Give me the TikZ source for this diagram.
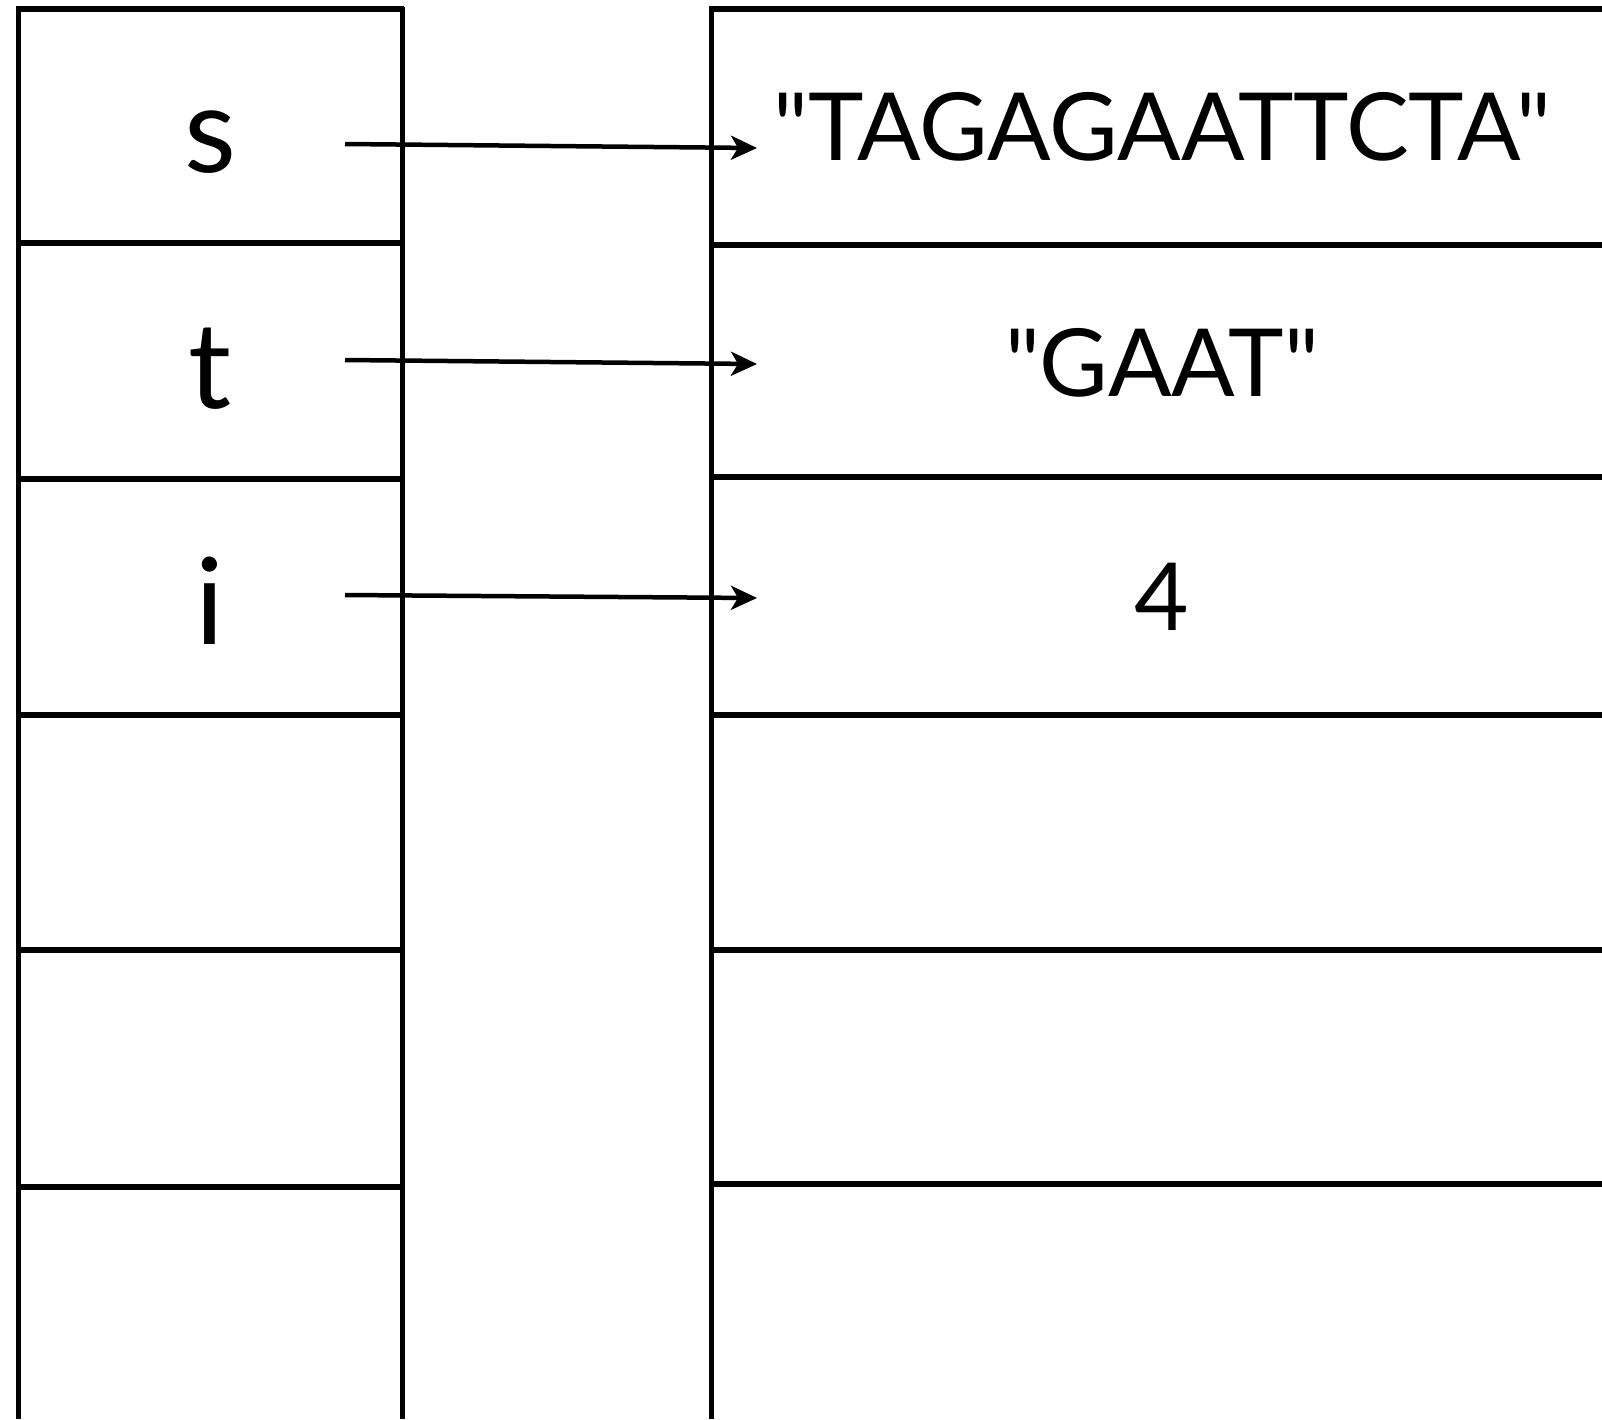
\documentclass[tikz,border=0pt]{standalone}
\usepackage{fontspec}
\setmainfont{Lato}[Ligatures=TeXOff]
\usetikzlibrary{arrows.meta}
\begin{document}
\begin{tikzpicture}[x=1pt,y=-1pt,
  rule/.style={line width=5.5pt, black},
  vrule/.style={line width=5pt, black},
  lbl/.style={font=\fontsize{120}{120}\selectfont, anchor=base, inner sep=0pt},
  val/.style={font=\fontsize{94}{94}\selectfont, anchor=base, inner sep=0pt},
  ptr/.style={line width=4.5pt, -{Stealth[length=26pt,width=24pt,inset=7pt]}}]
\useasboundingbox (0,0) rectangle (1602,1419);
% left column (variables)
\draw[vrule] (18,7) -- (18,1419);
\draw[vrule] (402,7) -- (402,1419);
\foreach \y in {9,243,479,715,950,1187} \draw[rule] (16,\y) -- (404,\y);
% right column (objects)
\draw[vrule] (711,7) -- (711,1419);
\foreach \y in {9,245,477,715,950,1184} \draw[rule] (709,\y) -- (1602,\y);
% labels
\node[lbl] (ls) at (210,172) {s};
\node[lbl] (lt) at (210,408) {t};
\node[lbl] (li) at (210,644) {i};
\node[val] (vs) at (1162,160) {"TAGAGAATTCTA"};
\node[val] (vt) at (1162,396) {"GAAT"};
\node[val] (vi) at (1162,630) {4};
% pointers
\coordinate (as) at (345,144);
\coordinate (bs) at (757,148);
\coordinate (at) at (345,360);
\coordinate (bt) at (757,364);
\coordinate (ai) at (345,595);
\coordinate (bi) at (757,598);
\draw[ptr] (as) -- (bs);
\draw[ptr] (at) -- (bt);
\draw[ptr] (ai) -- (bi);
\end{tikzpicture}
\end{document}
